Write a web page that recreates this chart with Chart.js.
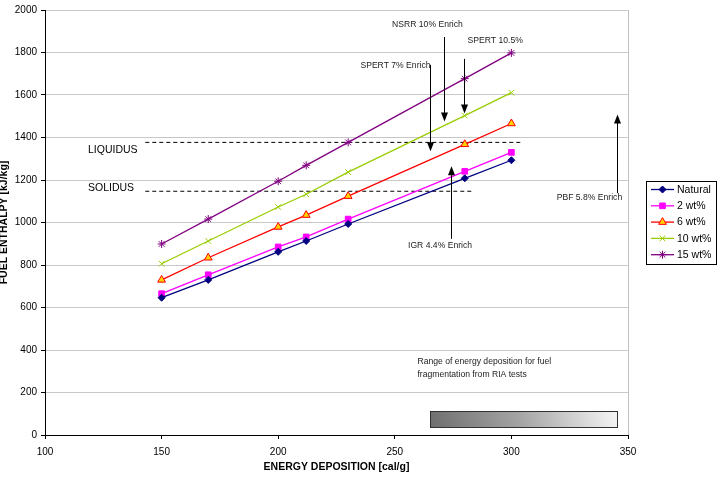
<!DOCTYPE html>
<html>
<head>
<meta charset="utf-8">
<script src="https://cdn.jsdelivr.net/npm/chart.js@4.4.0/dist/chart.umd.min.js"></script>
<style>
  html,body{margin:0;padding:0;background:#fff;}
  #wrap{width:718px;height:482px;}
</style>
</head>
<body>
<div id="wrap"><canvas id="chart" width="718" height="482"></canvas></div>
<script>
// energy deposition [cal/g]
const energy = [150, 170, 200, 212, 230, 280, 300];
// fuel enthalpy [kJ/kg] per enrichment
const natural = [646, 730, 862, 913, 993, 1208, 1293];
const wt2     = [665, 754, 885, 932, 1016, 1241, 1330];
const wt6     = [730, 834, 979, 1035, 1124, 1368, 1466];
const wt10    = [806, 913, 1073, 1133, 1237, 1503, 1611];
const wt15    = [899, 1016, 1194, 1269, 1377, 1677, 1798];
const seriesNames = ["Natural", "2 wt%", "6 wt%", "10 wt%", "15 wt%"];
// melting lines
const liquidusX = [143, 304], liquidusY = [1377, 1377];
const solidusX  = [143, 284], solidusY  = [1147, 1147];

const styles = [
  {color:'#000080', fill:'#000080', point:'rectRot', r:3.5},
  {color:'#FF00FF', fill:'#FF00FF', point:'rect', r:4},
  {color:'#FF0000', fill:'#FFD200', point:'triangle', r:4.5},
  {color:'#99CC00', fill:'#99CC00', point:'crossRot', r:4},
  {color:'#800080', fill:'#800080', point:'star', r:4}
];
const seriesData = [natural, wt2, wt6, wt10, wt15];

function pts(xs, ys){ return xs.map((x,i)=>({x:x, y:ys[i]})); }

const datasets = seriesData.map((d,i)=>({
  label: seriesNames[i],
  data: pts(energy, d),
  borderColor: styles[i].color,
  backgroundColor: styles[i].fill,
  pointBorderColor: styles[i].color,
  pointBackgroundColor: styles[i].fill,
  pointStyle: styles[i].point,
  pointRadius: styles[i].r,
  pointBorderWidth: 1,
  borderWidth: 1.3,
  tension: 0
}));
datasets.push({label:'liquidus', data:pts(liquidusX, liquidusY), borderColor:'#000', borderWidth:1, borderDash:[4,3], pointRadius:0});
datasets.push({label:'solidus', data:pts(solidusX, solidusY), borderColor:'#000', borderWidth:1, borderDash:[4,3], pointRadius:0});

// annotation arrows: x, from y, to y (data units)
const arrows = [
  {x:271.1, y0:1873, y1:1475},
  {x:279.7, y0:1770, y1:1513},
  {x:265.1, y0:1742, y1:1335},
  {x:274.1, y0:923,  y1:1265},
  {x:345.3, y0:1138, y1:1508}
];
const notes = [
  {t:'NSRR 10% Enrich', x:264.0, y:1930, align:'center'},
  {t:'SPERT 10.5%',     x:281.2, y:1855, align:'left'},
  {t:'SPERT 7% Enrich', x:265.3, y:1737, align:'right'},
  {t:'IGR 4.4% Enrich', x:269.4, y:890,  align:'center'},
  {t:'PBF 5.8% Enrich', x:347.5, y:1115, align:'right'}
];

const annot = {
  id:'annot',
  afterDatasetsDraw(chart){
    const c = chart.ctx, xs = chart.scales.x, ys = chart.scales.y, a = chart.chartArea;
    c.save();
    // right frame edge
    c.strokeStyle = '#c0c0c0'; c.lineWidth = 1;
    c.beginPath(); c.moveTo(a.right+0.5, a.top); c.lineTo(a.right+0.5, a.bottom); c.stroke();

    // arrows
    c.strokeStyle = '#000'; c.fillStyle = '#000'; c.lineWidth = 1;
    arrows.forEach(ar=>{
      const px = Math.round(xs.getPixelForValue(ar.x))+0.5;
      const p0 = ys.getPixelForValue(ar.y0), p1 = ys.getPixelForValue(ar.y1);
      const dir = p1 > p0 ? 1 : -1;
      c.beginPath(); c.moveTo(px, p0); c.lineTo(px, p1 - dir*7); c.stroke();
      c.beginPath(); c.moveTo(px, p1); c.lineTo(px-3.5, p1-dir*9); c.lineTo(px+3.5, p1-dir*9); c.closePath(); c.fill();
    });

    // labels
    c.fillStyle = '#222';
    c.textBaseline = 'middle';
    c.font = '8.6px "Liberation Sans", Arial, sans-serif';
    notes.forEach(n=>{
      c.textAlign = n.align;
      c.fillText(n.t, xs.getPixelForValue(n.x), ys.getPixelForValue(n.y));
    });
    c.textAlign = 'left';
    c.fillText('Range of energy deposition for fuel', xs.getPixelForValue(259.7), ys.getPixelForValue(343));
    c.fillText('fragmentation from RIA tests', xs.getPixelForValue(259.7), ys.getPixelForValue(286));

    c.fillStyle = '#000';
    c.font = '10.5px "Liberation Sans", Arial, sans-serif';
    c.fillText('LIQUIDUS', 88, ys.getPixelForValue(1340));
    c.fillText('SOLIDUS', 88, ys.getPixelForValue(1160));

    // gradient box
    const bx0 = xs.getPixelForValue(265.1), bx1 = xs.getPixelForValue(345.3);
    const by0 = ys.getPixelForValue(112), by1 = ys.getPixelForValue(37);
    const g = c.createLinearGradient(bx0, by1, bx1, by0 - 40);
    g.addColorStop(0, '#6e6e6e');
    g.addColorStop(0.45, '#a4a4a4');
    g.addColorStop(1, '#ffffff');
    c.fillStyle = g;
    c.fillRect(bx0, by0, bx1-bx0, by1-by0);
    c.strokeStyle = '#333';
    c.strokeRect(Math.round(bx0)+0.5, Math.round(by0)+0.5, Math.round(bx1-bx0), Math.round(by1-by0));

    // legend
    const lx = 646, ly = 181, lw = 70, lh = 83;
    c.fillStyle = '#fff'; c.fillRect(lx, ly, lw, lh);
    c.strokeStyle = '#000'; c.lineWidth = 1;
    c.strokeRect(lx+0.5, ly+0.5, lw, lh);
    c.font = '10.5px "Liberation Sans", Arial, sans-serif';
    c.textAlign = 'left';
    seriesNames.forEach((name,i)=>{
      const yy = ly + 8.5 + i*16.3;
      const st = styles[i];
      c.strokeStyle = st.color; c.lineWidth = 1.3;
      c.beginPath(); c.moveTo(651, yy); c.lineTo(674, yy); c.stroke();
      c.fillStyle = st.fill; c.strokeStyle = st.color; c.lineWidth = 1;
      Chart.helpers.drawPoint(c, {pointStyle:st.point, radius:st.r, rotation:0, borderWidth:1}, 662.5, yy);
      c.fillStyle = '#000';
      c.fillText(name, 677, yy+0.5);
    });
    c.restore();
  }
};

new Chart(document.getElementById('chart'), {
  type:'line',
  data:{datasets:datasets},
  plugins:[annot],
  options:{
    responsive:false,
    devicePixelRatio:1,
    animation:false,
    layout:{padding:{top:8, right:90, left:0, bottom:0}},
    plugins:{legend:{display:false}, tooltip:{enabled:false}},
    scales:{
      x:{
        type:'linear', min:100, max:350,
        ticks:{stepSize:50, color:'#000', padding:7, font:{size:10, family:'"Liberation Sans", Arial, sans-serif'},
               callback:v=>String(v)},
        grid:{drawOnChartArea:false, tickLength:4, tickColor:'#000'},
        border:{color:'#000', width:1},
        title:{display:true, text:'ENERGY DEPOSITION [cal/g]', color:'#000', padding:{top:2, bottom:9},
               font:{size:10.5, weight:'bold', family:'"Liberation Sans", Arial, sans-serif'}},
        afterFit(s){ s.height = 47; }
      },
      y:{
        min:0, max:2000,
        ticks:{stepSize:200, color:'#000', padding:4, font:{size:10, family:'"Liberation Sans", Arial, sans-serif'},
               callback:v=>String(v)},
        grid:{color:'#c8c8c8', tickLength:4, tickColor:'#000'},
        border:{color:'#000', width:1},
        title:{display:true, text:'FUEL ENTHALPY [kJ/kg]', color:'#000', padding:{top:-2, bottom:0},
               font:{size:10.5, weight:'bold', family:'"Liberation Sans", Arial, sans-serif'}},
        afterFit(s){ s.width = 45; }
      }
    }
  }
});
</script>
</body>
</html>
